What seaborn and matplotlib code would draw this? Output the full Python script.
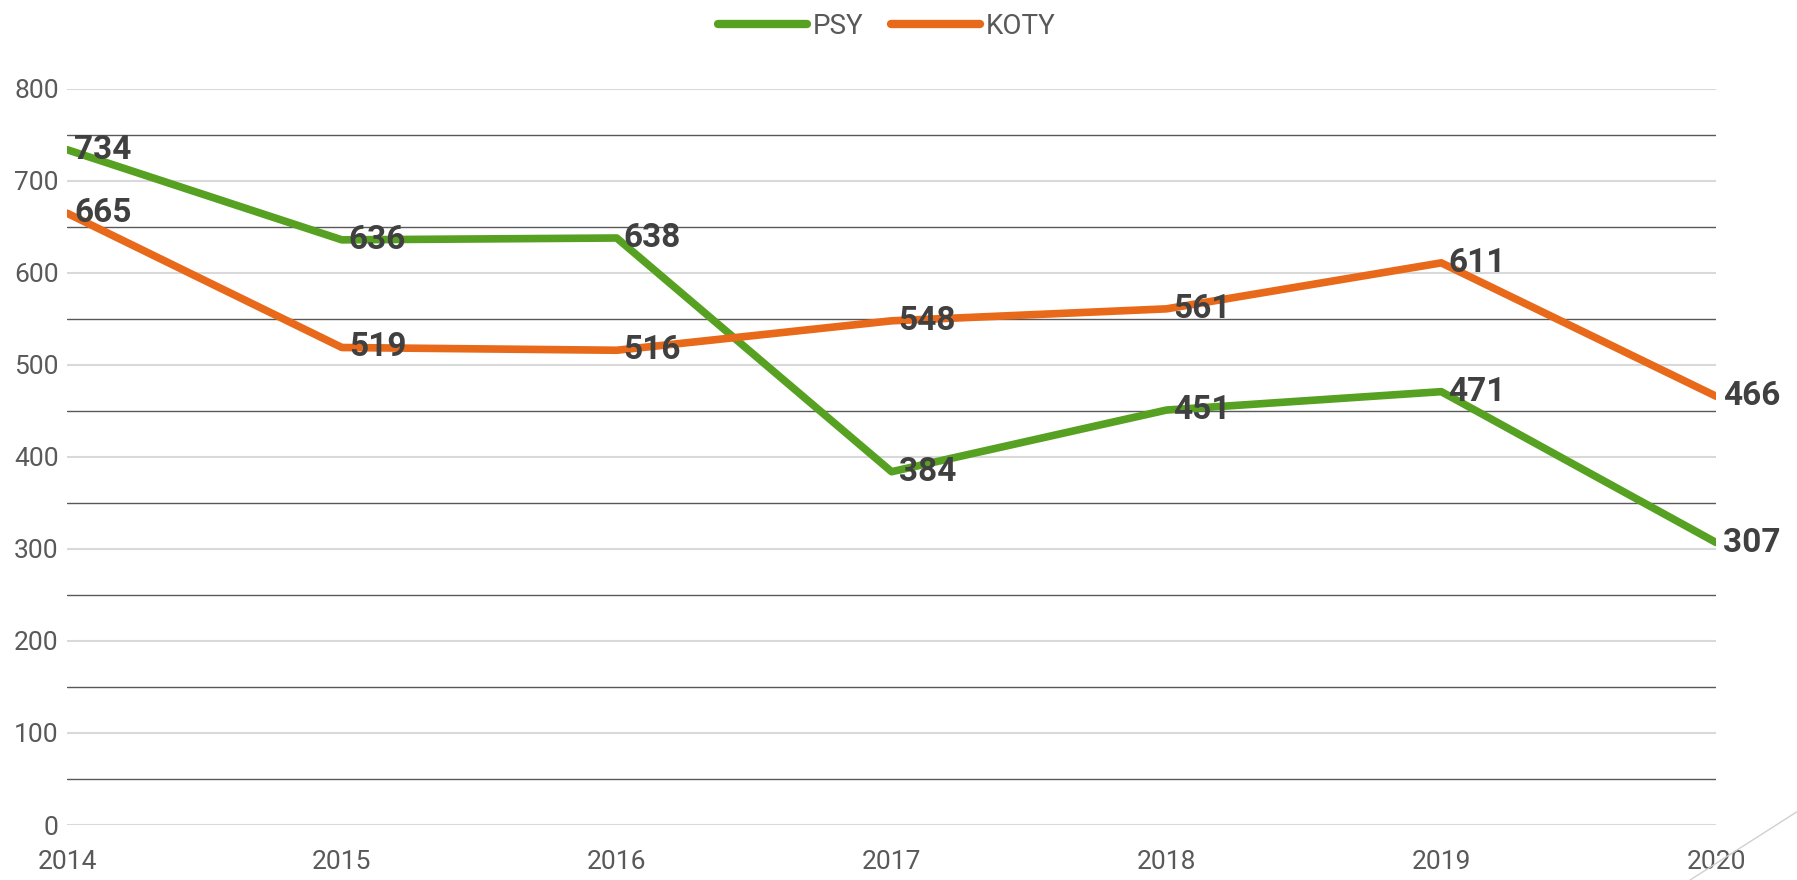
import matplotlib
matplotlib.use("Agg")
import matplotlib.pyplot as plt
from matplotlib.lines import Line2D
from matplotlib.ticker import MultipleLocator
import seaborn as sns
import pandas as pd

# data
years = [2014, 2015, 2016, 2017, 2018, 2019, 2020]
psy = [734, 636, 638, 384, 451, 471, 307]
koty = [665, 519, 516, 548, 561, 611, 466]
series_names = ["PSY", "KOTY"]
colors = {"PSY": "#56a122", "KOTY": "#e8691a"}

df = pd.DataFrame({
    "year": years * 2,
    "value": psy + koty,
    "series": ["PSY"] * len(years) + ["KOTY"] * len(years),
})

sns.set_theme(style="white")
plt.rcParams["font.family"] = ["Roboto", "DejaVu Sans"]

fig = plt.figure(figsize=(17.97, 8.8), dpi=100)
ax = fig.add_axes([0.0373, 0.0625, 0.9177, 0.8364])

sns.lineplot(data=df, x="year", y="value", hue="series", hue_order=series_names,
             palette=colors, linewidth=5.5, ax=ax, legend=True)
for line in ax.get_lines():
    line.set_solid_capstyle("round")
    line.set_solid_joinstyle("round")

# data labels to the right of each point
for name, vals in zip(series_names, [psy, koty]):
    for x, y in zip(years, vals):
        ax.annotate(str(y), (x, y), xytext=(5, 0), textcoords="offset points",
                    ha="left", va="center", fontsize=24, fontweight="bold",
                    color="#404040", annotation_clip=False, zorder=5)

ax.set_xlim(2014, 2020)
ax.set_ylim(0, 800)
ax.set_xticks(years)
ax.yaxis.set_major_locator(MultipleLocator(100))
ax.yaxis.set_minor_locator(MultipleLocator(50))
ax.grid(which="major", axis="y", color="#d9d9d9", linewidth=1.5)
ax.grid(which="minor", axis="y", color="#595959", linewidth=1.0)
ax.set_axisbelow(True)
for s in ax.spines.values():
    s.set_visible(False)
ax.tick_params(axis="y", which="both", length=0, labelsize=19, labelcolor="#595959", pad=6)
ax.tick_params(axis="x", length=0, labelsize=19, labelcolor="#595959", pad=18)
ax.set_xlabel("")
ax.set_ylabel("")

handles, labels = ax.get_legend_handles_labels()
leg = ax.legend(handles, labels, loc="center", bbox_to_anchor=(0.497, 1.085), ncol=2,
                frameon=False, fontsize=20, handlelength=3.2, handletextpad=0.2,
                columnspacing=1.0)
for t in leg.get_texts():
    t.set_color("#595959")
for h in leg.get_lines():
    h.set_linewidth(6)
    h.set_solid_capstyle("round")

# thin decorative stroke in the lower right corner
fig.add_artist(Line2D([1.0, 0.9405], [0.0776, 0.0], transform=fig.transFigure,
                      color="#d0d0d0", linewidth=1.0))

fig.savefig("out.png", dpi=100)
